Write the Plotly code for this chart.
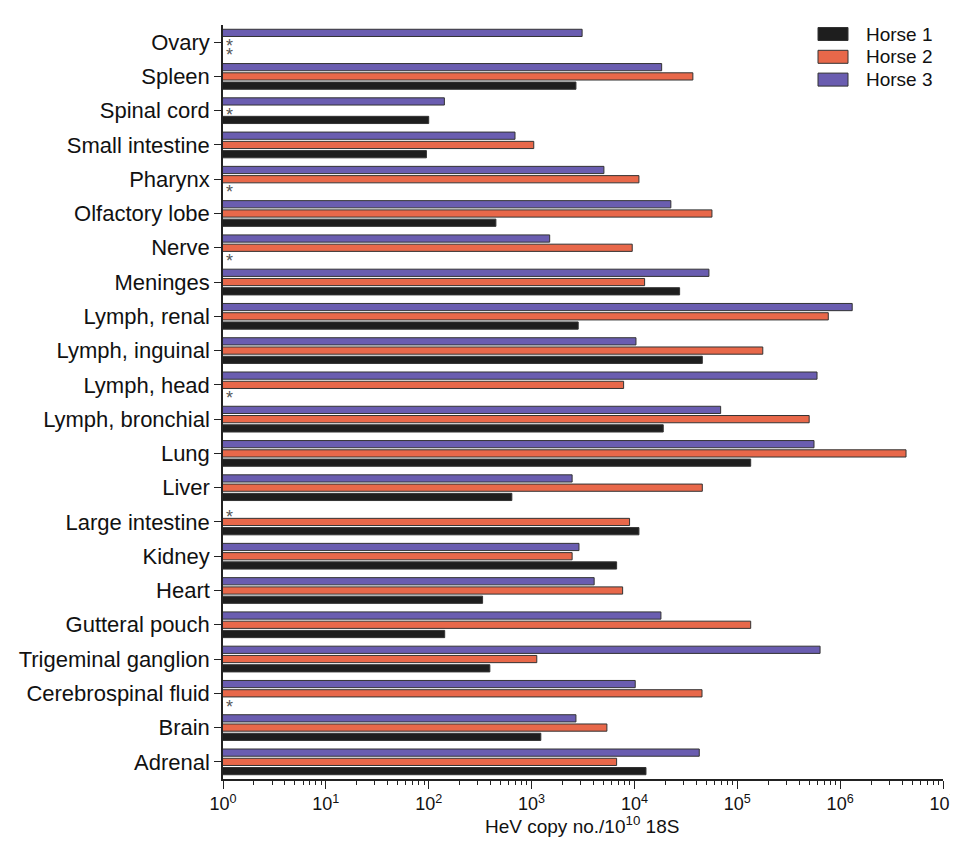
import plotly.graph_objects as go

tissues = ["Adrenal", "Brain", "Cerebrospinal fluid", "Trigeminal ganglion", "Gutteral pouch",
           "Heart", "Kidney", "Large intestine", "Liver", "Lung", "Lymph, bronchial",
           "Lymph, head", "Lymph, inguinal", "Lymph, renal", "Meninges", "Nerve",
           "Olfactory lobe", "Pharynx", "Small intestine", "Spinal cord", "Spleen", "Ovary"]

horse1 = [12950, 1230, None, 393, 143,
          334, 6710, 11060, 643, 135000, 19060,
          None, 45700, 2840, 27500, None,
          450, None, 95, 100, 2700, None]

horse2 = [6710, 5400, 45400, 1124, 135000,
          7680, 2480, 8970, 45700, 4370000, 500000,
          7850, 177000, 767000, 12560, 9520,
          56700, 11060, 1050, None, 37000, None]

horse3 = [42700, 2700, 10180, 638000, 18100,
          4060, 2890, None, 2480, 557000, 68900,
          596000, 10350, 1310000, 53000, 1500,
          22600, 5050, 690, 142, 18400, 3100]

series_names = ["Horse 1", "Horse 2", "Horse 3"]
series_values = [horse1, horse2, horse3]
series_colors = ["#1e1e1e", "#e8684a", "#6a5db0"]

tick_vals = [1, 10, 100, 1000, 1e4, 1e5, 1e6, 1e7]
tick_text = ["10<sup>%d</sup>" % i for i in range(8)]
minor_vals = [m * 10 ** k for k in range(7) for m in range(2, 10)]
x_title = "HeV copy no./10<sup>10</sup> 18S"

# page body adds an 8px margin; keep the figure small enough to avoid scrollbars
W, H = 942, 829
M_L, M_R, M_T, M_B = 215, 7, 17, 58
BODY = 8
BARGAP = 0.19
BARGROUPGAP = 0.22
FONT = "Arial, Liberation Sans, sans-serif"

plot_w = W - M_L - M_R
plot_h = H - M_T - M_B


def px_to_paper_x(px):
    return (px - BODY - M_L) / plot_w


def px_to_paper_y(py):
    return 1 - (py - BODY - M_T) / plot_h


fig = go.Figure()
for name, vals, col in zip(series_names, series_values, series_colors):
    fig.add_trace(go.Bar(
        y=tissues, x=vals, name=name, orientation="h", showlegend=False,
        marker=dict(color=col, line=dict(color="#333333", width=1)),
    ))

# asterisks for not-detected values
slot = plot_h / len(tissues) * (1 - BARGAP) / 3
annotations = []
for i, vals in enumerate(series_values):
    for t, v in zip(tissues, vals):
        if v is None:
            annotations.append(dict(
                x=0.065, y=t, xref="x", yref="y", text="*", showarrow=False,
                font=dict(size=18, color="#555555", family=FONT),
                xanchor="center", yanchor="middle",
                yshift=(i - 1) * slot - 4,
            ))

# legend drawn as boxes + labels (wide swatches like the original)
shapes = []
LEG_X0, LEG_X1, LEG_TEXT_X = 818, 848, 864
LEG_Y0, LEG_DY, LEG_BOX_H = 34, 22.8, 13
for k, (name, col) in enumerate(zip(series_names, series_colors)):
    cy = LEG_Y0 + k * LEG_DY
    shapes.append(dict(
        type="rect", xref="paper", yref="paper",
        x0=px_to_paper_x(LEG_X0), x1=px_to_paper_x(LEG_X1),
        y0=px_to_paper_y(cy + LEG_BOX_H / 2), y1=px_to_paper_y(cy - LEG_BOX_H / 2),
        fillcolor=col, line=dict(color="#333333", width=1),
    ))
    annotations.append(dict(
        x=px_to_paper_x(LEG_TEXT_X), y=px_to_paper_y(cy), xref="paper", yref="paper",
        text=name, showarrow=False, xanchor="left", yanchor="middle",
        font=dict(size=19, family=FONT, color="#111111"),
    ))

# x-axis title
annotations.append(dict(
    x=px_to_paper_x(582), y=px_to_paper_y(825), xref="paper", yref="paper",
    text=x_title, showarrow=False, xanchor="center", yanchor="middle",
    font=dict(size=19, family=FONT, color="#111111"),
))

fig.update_layout(
    width=W, height=H,
    margin=dict(l=M_L, r=M_R, t=M_T, b=M_B),
    barmode="group", bargap=BARGAP, bargroupgap=BARGROUPGAP,
    plot_bgcolor="white", paper_bgcolor="white",
    font=dict(family=FONT, color="#111111"),
    annotations=annotations, shapes=shapes,
    showlegend=False,
    xaxis=dict(
        type="log", range=[0, 7], tickvals=tick_vals, ticktext=tick_text,
        ticks="outside", ticklen=8, tickwidth=1.3, tickcolor="#222",
        showline=True, linecolor="#222", linewidth=1.5,
        showgrid=False, zeroline=False, automargin=False,
        ticklabeloverflow="allow",
        tickfont=dict(size=18, family=FONT),
        minor=dict(ticks="outside", ticklen=4, tickwidth=1, tickcolor="#222",
                   tickvals=minor_vals, showgrid=False),
    ),
    yaxis=dict(
        type="category", categoryorder="array", categoryarray=tissues,
        range=[-0.5, len(tissues) - 0.5],
        ticks="outside", ticklen=7, tickwidth=1.3, tickcolor="#222",
        showline=True, linecolor="#222", linewidth=1.5,
        showgrid=False, zeroline=False, automargin=False,
        tickfont=dict(size=22, family=FONT),
    ),
)

fig.write_html("out.html")
